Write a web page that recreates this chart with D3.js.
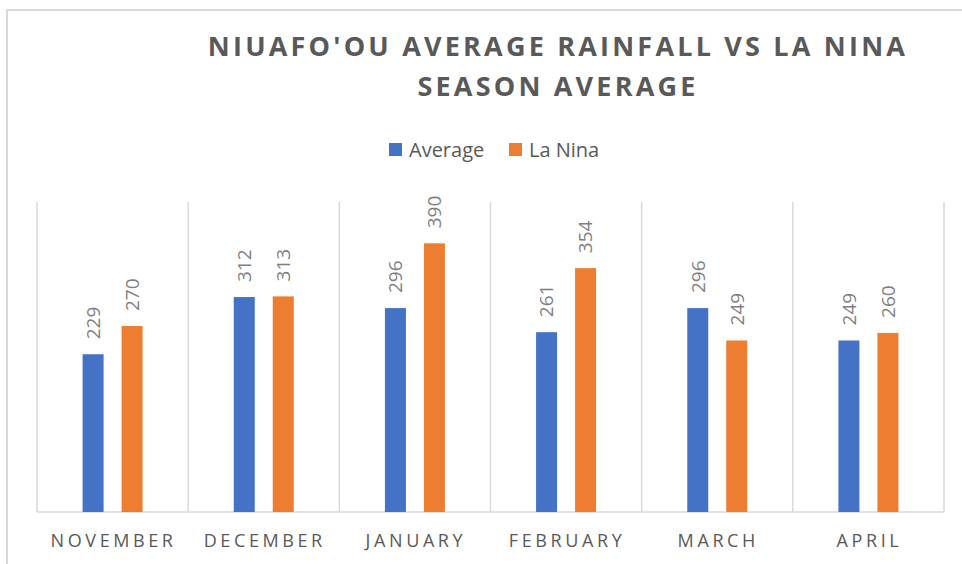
<!DOCTYPE html>
<html>
<head>
<meta charset="utf-8">
<script src="https://cdn.jsdelivr.net/npm/d3@7"></script>
<style>
  body { margin: 0; background: #fff; }
  svg text { font-family: "Open Sans", sans-serif; }
</style>
</head>
<body>
<div id="chart"></div>
<script>
// Chart data
const months = ["NOVEMBER", "DECEMBER", "JANUARY", "FEBRUARY", "MARCH", "APRIL"];
const seriesNames = ["Average", "La Nina"];
const averageValues = [229, 312, 296, 261, 296, 249];
const laNinaValues = [270, 313, 390, 354, 249, 260];
const titleLines = ["NIUAFO'OU AVERAGE RAINFALL VS LA NINA", "SEASON AVERAGE"];

const width = 962;
const height = 564;
const colors = ["#4472C4", "#ED7D31"];

const svg = d3.select("#chart")
  .append("svg")
  .attr("width", width)
  .attr("height", height);

// chart area border (runs off the right and bottom edges)
svg.append("rect")
  .attr("x", 7)
  .attr("y", 10)
  .attr("width", 1000)
  .attr("height", 600)
  .attr("fill", "none")
  .attr("stroke", "#d9d9d9")
  .attr("stroke-width", 2);

// plot area
const plot = { left: 37, right: 944, top: 202, bottom: 512 };

const x = d3.scaleBand()
  .domain(months)
  .range([plot.left, plot.right]);

const y = d3.scaleLinear()
  .domain([0, 450])
  .range([plot.bottom, plot.top]);

const barWidth = 21;
const barOffsets = [-30, 9]; // bar left edge relative to band centre

// vertical gridlines between categories
svg.append("g")
  .selectAll("line")
  .data(months.concat(["end"]))
  .enter()
  .append("line")
  .attr("x1", (d, i) => plot.left + i * x.bandwidth())
  .attr("x2", (d, i) => plot.left + i * x.bandwidth())
  .attr("y1", plot.top)
  .attr("y2", plot.bottom)
  .attr("stroke", "#d9d9d9")
  .attr("stroke-width", 1.5);

// bottom axis line
svg.append("line")
  .attr("x1", plot.left)
  .attr("x2", plot.right)
  .attr("y1", plot.bottom)
  .attr("y2", plot.bottom)
  .attr("stroke", "#d9d9d9")
  .attr("stroke-width", 1.5);

// build table of bars
const bars = [];
months.forEach((m, i) => {
  bars.push({ month: m, s: 0, value: averageValues[i] });
  bars.push({ month: m, s: 1, value: laNinaValues[i] });
});

const cx = d => x(d.month) + x.bandwidth() / 2 + barOffsets[d.s] + barWidth / 2;

svg.append("g")
  .selectAll("rect")
  .data(bars)
  .enter()
  .append("rect")
  .attr("x", d => cx(d) - barWidth / 2)
  .attr("y", d => y(d.value))
  .attr("width", barWidth)
  .attr("height", d => y(0) - y(d.value))
  .attr("fill", d => colors[d.s]);

// rotated value labels
svg.append("g")
  .selectAll("text")
  .data(bars)
  .enter()
  .append("text")
  .attr("transform", d => `translate(${cx(d)},${y(d.value) - 15}) rotate(-90)`)
  .attr("dy", "0.36em")
  .attr("text-anchor", "start")
  .attr("font-size", 19)
  .attr("fill", "#7f7f7f")
  .text(d => d.value);

// category axis labels
const xAxis = d3.axisBottom(x).tickSize(0).tickPadding(0);
const axisG = svg.append("g")
  .attr("transform", `translate(0,${plot.bottom})`)
  .call(xAxis);
axisG.select(".domain").remove();
axisG.selectAll("text")
  .attr("dy", null)
  .attr("y", 35)
  .attr("font-size", 18)
  .attr("font-family", "Open Sans, sans-serif")
  .attr("letter-spacing", 3.6)
  .attr("fill", "#595959")
  .attr("transform", "translate(1,0)");

// title
svg.append("g")
  .selectAll("text")
  .data(titleLines)
  .enter()
  .append("text")
  .attr("x", 558)
  .attr("y", (d, i) => 56 + i * 40)
  .attr("text-anchor", "middle")
  .attr("font-size", 27)
  .attr("font-weight", "bold")
  .attr("letter-spacing", 3.2)
  .attr("fill", "#595959")
  .text(d => d);

// legend
const legend = svg.append("g");
const legendX = [389, 509];
seriesNames.forEach((name, i) => {
  legend.append("rect")
    .attr("x", legendX[i])
    .attr("y", 143)
    .attr("width", 13)
    .attr("height", 13)
    .attr("fill", colors[i]);
  legend.append("text")
    .attr("x", legendX[i] + 20)
    .attr("y", 157)
    .attr("font-size", 20)
    .attr("fill", "#595959")
    .text(name);
});
</script>
</body>
</html>
